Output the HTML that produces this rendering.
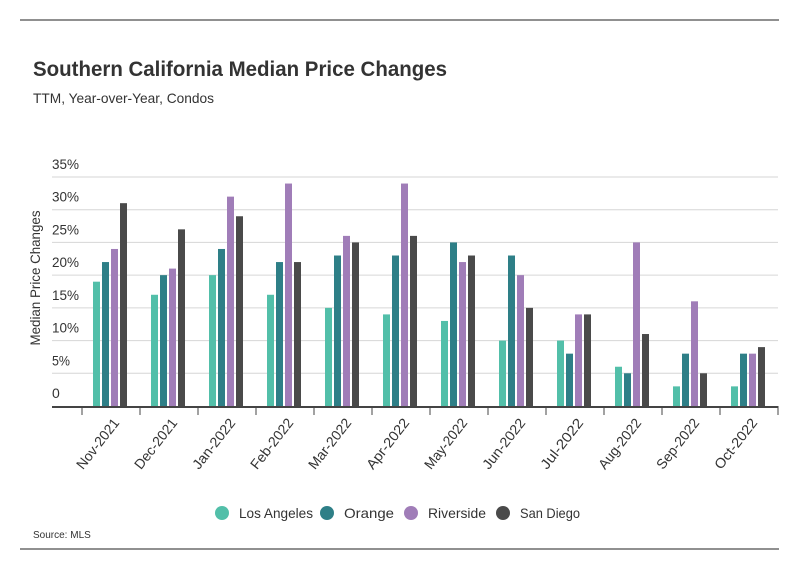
<!DOCTYPE html>
<html><head><meta charset="utf-8"><style>
body{margin:0;background:#fff;}
svg text{font-family:"Liberation Sans Narrow","Liberation Sans",sans-serif;}
</style></head><body>
<svg width="799" height="575" xmlns="http://www.w3.org/2000/svg">
<line x1="20" y1="20" x2="779" y2="20" stroke="#222" stroke-width="1"/>
<line x1="20" y1="549" x2="779" y2="549" stroke="#222" stroke-width="1"/>
<text x="33" y="76" font-size="21" font-weight="bold" fill="#333" textLength="414" lengthAdjust="spacingAndGlyphs">Southern California Median Price Changes</text>
<text x="33" y="103" font-size="14" fill="#333" textLength="181" lengthAdjust="spacingAndGlyphs">TTM, Year-over-Year, Condos</text>
<text transform="translate(40,278) rotate(-90)" text-anchor="middle" font-size="14" fill="#333" textLength="135" lengthAdjust="spacingAndGlyphs">Median Price Changes</text>
<g id="grid"></g><g id="bars"></g><g id="xaxis"></g>
<g id="legend"></g>
<text x="33" y="538" font-size="10" fill="#333">Source: MLS</text>
</svg>
<script>
const categories=["Nov-2021","Dec-2021","Jan-2022","Feb-2022","Mar-2022","Apr-2022","May-2022","Jun-2022","Jul-2022","Aug-2022","Sep-2022","Oct-2022"];
const losAngeles=[19,17,20,17,15,14,13,10,10,6,3,3];
const orange=[22,20,24,22,23,23,25,23,8,5,8,8];
const riverside=[24,21,32,34,26,34,22,20,14,25,16,8];
const sanDiego=[31,27,29,22,25,26,23,15,14,11,5,9];
const seriesNames=["Los Angeles","Orange","Riverside","San Diego"];
const yTicks=[0,5,10,15,20,25,30,35];
const yTickLabels=["0","5%","10%","15%","20%","25%","30%","35%"];
const colors=["#52bfa9","#2e7f87","#a07db8","#4a4a4a"];
const NS="http://www.w3.org/2000/svg";
const y0=406,yScale=(406-177)/35;
const y=v=>y0-v*yScale;
const bandStart=82,bandW=58;
const x=i=>bandStart+i*bandW;
function mk(t,a,p){const e=document.createElementNS(NS,t);for(const k in a)e.setAttribute(k,a[k]);p.appendChild(e);return e;}
const grid=document.getElementById('grid');
yTicks.forEach((t,i)=>{
 if(t>0){const l=mk('line',{x1:52,x2:778,y1:y(t),y2:y(t),stroke:'#d6d6d6','stroke-width':1},grid);
 
 }
 const tx=mk('text',{x:52,y:y(t)-8,'font-size':14,fill:'#333'},grid);tx.textContent=yTickLabels[i];
 const L=yTickLabels[i].length;
 if(L>1){tx.setAttribute('textLength',L===2?18:27);tx.setAttribute('lengthAdjust','spacingAndGlyphs');}
 
 
});
const bars=document.getElementById('bars');
const data=[losAngeles,orange,riverside,sanDiego];
categories.forEach((c,i)=>{
 data.forEach((s,j)=>{
  const r=mk('rect',{x:x(i)+11+j*9,y:y(s[i]),width:7,height:y0-y(s[i]),fill:colors[j]},bars);
  
  
 });
});
const xa=document.getElementById('xaxis');
const ax=mk('line',{x1:52,x2:778,y1:y0+1,y2:y0+1,stroke:'#444','stroke-width':2},xa);


for(let i=0;i<=categories.length;i++){
 const tk=mk('line',{x1:x(i),x2:x(i),y1:y0,y2:y0+9,stroke:'#444','stroke-width':1},xa);
 
 
}
categories.forEach((c,i)=>{
 const cx=x(i)+bandW/2+9,cy=y0+17;
 const t=mk('text',{x:cx,y:cy,'text-anchor':'end','font-size':14,fill:'#333',textLength:60,lengthAdjust:'spacingAndGlyphs',transform:`rotate(-52 ${cx} ${cy})`},xa);
 t.textContent=c;
 
 
});
const lg=document.getElementById('legend');
const lx=[215,320,404,496];
const lw=[74,50,58,60];
seriesNames.forEach((n,j)=>{
 const g=mk('g',{},lg);
 
 
 mk('circle',{cx:lx[j]+7,cy:513,r:7,fill:colors[j]},g);
 const t=mk('text',{x:lx[j]+24,y:518,'font-size':14,fill:'#333',textLength:lw[j],lengthAdjust:'spacingAndGlyphs'},g);t.textContent=n;
});
</script>
</body></html>
